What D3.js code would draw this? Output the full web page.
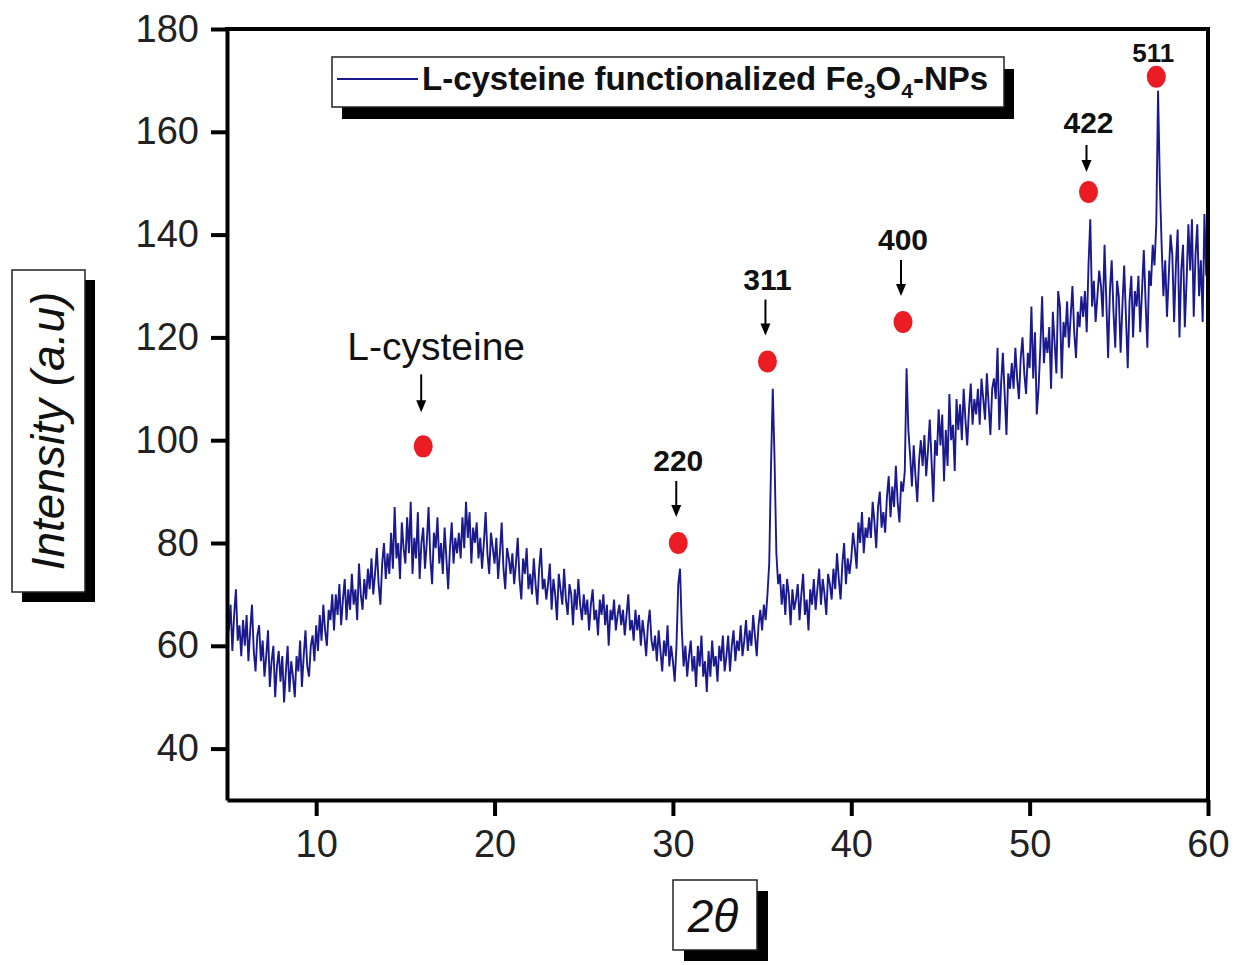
<!DOCTYPE html>
<html>
<head>
<meta charset="utf-8">
<title>XRD pattern</title>
<script src="https://cdn.jsdelivr.net/npm/d3@7"></script>
<style>
    body { margin: 0; background: #fff; }
    svg { display: block; }
    .axis path, .axis line { stroke: #000; stroke-width: 4; }
    .axis text { font-family: Arial, "Liberation Sans", sans-serif; font-size: 38px; fill: #222; }
</style>
</head>
<body>
<div id="chart"></div>
<script>
// 2theta scan, 5..60 deg, 0.1 deg per point (one row per degree)
const thetaStart = 5;
const thetaStep = 0.1;
const intensity = [
    70, 63, 68, 59, 66, 71, 61, 64, 58, 65,
    60, 66, 57, 63, 68, 59, 55, 62, 64, 57,
    61, 54, 58, 63, 52, 57, 60, 50, 56, 59,
    53, 58, 49, 55, 60, 51, 57, 54, 50, 58,
    55, 61, 52, 58, 63, 56, 54, 60, 62, 57,
    64, 59, 66, 61, 68, 63, 60, 67, 65, 70,
    63, 70, 66, 72, 64, 69, 73, 65, 71, 67,
    74, 68, 71, 65, 76, 70, 67, 73, 69, 75,
    71, 77, 70, 74, 79, 72, 68, 76, 80, 73,
    78, 74, 82, 75, 87, 77, 80, 73, 84, 79,
    76, 85, 78, 88, 74, 81, 77, 86, 73, 80,
    83, 75, 80, 87, 77, 72, 82, 79, 85, 76,
    80, 74, 83, 77, 71, 79, 84, 76, 81, 78,
    82, 77, 85, 79, 88, 81, 86, 76, 83, 80,
    84, 77, 81, 75, 80, 86, 78, 74, 82, 79,
    76, 81, 73, 78, 84, 75, 71, 79, 77, 74,
    78, 72, 76, 81, 73, 69, 77, 74, 79, 71,
    74, 70, 77, 72, 68, 75, 79, 71, 73, 69,
    72, 76, 67, 73, 70, 65, 74, 71, 68, 75,
    69, 66, 72, 70, 64, 71, 67, 73, 68, 65,
    70, 66, 69, 63, 68, 71, 65, 67, 62, 69,
    66, 70, 64, 68, 60, 67, 65, 69, 63, 66,
    68, 64, 67, 62, 66, 70, 63, 65, 61, 67,
    63, 66, 60, 65, 62, 58, 64, 67, 61, 59,
    62, 57, 63, 59, 55, 61, 58, 64, 56, 60,
    57, 53, 60, 72, 75, 63, 56, 60, 54, 58,
    61, 55, 58, 52, 60, 56, 62, 54, 57, 51,
    59, 54, 61, 56, 58, 53, 60, 57, 62, 55,
    58, 62, 55, 60, 63, 57, 61, 59, 64, 58,
    61, 65, 59, 63, 60, 66, 62, 58, 64, 67,
    63, 68, 65, 70, 76, 95, 110, 96, 78, 72,
    74, 68, 72, 66, 73, 70, 64, 71, 67, 69,
    72, 65, 70, 74, 66, 69, 63, 71, 68, 73,
    67, 71, 75, 68, 73, 70, 66, 74, 72, 69,
    75, 71, 78, 73, 69, 76, 80, 72, 77, 74,
    77, 82, 79, 75, 84, 80, 86, 78, 83, 81,
    85, 81, 88, 84, 79, 87, 90, 83, 86, 82,
    89, 93, 85, 91, 87, 95, 88, 84, 92, 90,
    94, 114, 102, 97, 91, 99, 93, 88, 96, 100,
    95, 101, 93, 98, 104, 96, 88, 100, 97, 106,
    99, 105, 92, 102, 95, 109, 100, 103, 94, 108,
    102, 107, 100, 110, 104, 99, 106, 111, 103, 108,
    105, 110, 103, 112, 108, 104, 113, 107, 101, 110,
    112, 108, 118, 102, 111, 117, 109, 101, 113, 110,
    115, 110, 118, 112, 108, 116, 120, 113, 109, 117,
    114, 126, 112, 121, 105, 110, 118, 128, 115, 120,
    117, 122, 110, 125, 119, 113, 129, 126, 112, 123,
    120, 127, 118, 124, 130, 121, 116, 125, 122, 128,
    124, 129, 121, 134, 143, 126, 131, 123, 128, 133,
    130, 124, 138, 127, 116, 129, 135, 125, 118, 131,
    128, 117, 126, 134, 124, 114, 127, 132, 120, 129,
    126, 132, 121, 129, 137, 127, 118, 133, 130, 138,
    134, 142, 168, 150, 138, 128, 135, 124, 132, 140,
    136, 123, 134, 141, 120, 133, 138, 122, 131, 142,
    133, 143, 124, 136, 142, 128, 135, 123, 144, 132,
    136
];

// marked reflections
const peakLabels = ["L-cysteine", "220", "311", "400", "422", "511"];
const peakTheta = [16.0, 30.3, 35.3, 42.9, 53.3, 57.1];
const peakMark = [98.8, 80, 115.3, 123, 148.3, 170.7];

const xTicks = [10, 20, 30, 40, 50, 60];
const yTicks = [40, 60, 80, 100, 120, 140, 160, 180];

const seriesName = "L-cysteine functionalized Fe";
const xTitle = "2θ";
const yTitle = "Intensity (a.u)";


class XrdChart {

    constructor(_parentElement, _data) {
        this.parentElement = _parentElement;
        this.data = _data;

        this.initVis();
    }

    initVis() {
        let vis = this;

        vis.margin = { top: 29, right: 27, bottom: 165, left: 227 };
        vis.width = 1235 - vis.margin.left - vis.margin.right;
        vis.height = 965 - vis.margin.top - vis.margin.bottom;

        vis.root = d3.select("#" + vis.parentElement).append("svg")
            .attr("width", 1235)
            .attr("height", 965);

        vis.svg = vis.root.append("g")
            .attr("transform", "translate(" + vis.margin.left + "," + vis.margin.top + ")");

        vis.x = d3.scaleLinear().domain([5, 60]).range([0, vis.width]);
        vis.y = d3.scaleLinear().domain([30, 180]).range([vis.height, 0]);

        vis.xAxis = d3.axisBottom(vis.x)
            .tickValues(xTicks)
            .tickSize(16)
            .tickSizeOuter(0)
            .tickPadding(14);

        vis.yAxis = d3.axisLeft(vis.y)
            .tickValues(yTicks)
            .tickSize(16)
            .tickSizeOuter(0)
            .tickPadding(12);

        vis.line = d3.line()
            .x(d => vis.x(d.theta))
            .y(d => vis.y(d.value));

        vis.wrangleData();
    }

    wrangleData() {
        let vis = this;

        vis.displayData = vis.data.map((v, i) => ({ theta: thetaStart + i * thetaStep, value: v }));

        vis.updateVis();
    }

    updateVis() {
        let vis = this;

        // pattern
        vis.svg.append("path")
            .datum(vis.displayData)
            .attr("fill", "none")
            .attr("stroke", "#1a1a8e")
            .attr("stroke-width", 1.9)
            .attr("stroke-linejoin", "miter")
            .attr("d", vis.line);

        // frame
        vis.svg.append("g")
            .attr("class", "x-axis axis")
            .attr("transform", "translate(0," + vis.height + ")")
            .call(vis.xAxis);

        vis.svg.append("g")
            .attr("class", "y-axis axis")
            .call(vis.yAxis);

        vis.svg.selectAll(".axis").attr("font-family", null).attr("font-size", null);

        vis.svg.append("path")
            .attr("d", "M0,0H" + vis.width + "V" + vis.height)
            .attr("fill", "none")
            .attr("stroke", "#000")
            .attr("stroke-width", 4)
            .attr("stroke-linecap", "square");

        // peak markers and labels
        let layout = {
            "L-cysteine": { dx: 13, a0: -72, a1: -34, t: -86, size: 39, weight: "normal" },
            "422": { dx: 0, a0: -47, a1: -20, t: -59, size: 30, weight: "bold" },
            "511": { dx: -3, a0: null, a1: null, t: -15, size: 26, weight: "bold" }
        };

        peakLabels.forEach((lab, i) => {
            let cx = vis.x(peakTheta[i]);
            let cy = vis.y(peakMark[i]);
            let l = layout[lab] || { dx: 0, a0: -62, a1: -26, t: -72, size: 30, weight: "bold" };

            vis.svg.append("ellipse")
                .attr("cx", cx)
                .attr("cy", cy)
                .attr("rx", 9.5)
                .attr("ry", 11)
                .attr("fill", "#ec1c24");

            if (l.a0 !== null) {
                let ax = cx - 2;
                vis.svg.append("line")
                    .attr("x1", ax).attr("x2", ax)
                    .attr("y1", cy + l.a0).attr("y2", cy + l.a1 - 8)
                    .attr("stroke", "#000")
                    .attr("stroke-width", 2);
                vis.svg.append("path")
                    .attr("d", "M" + (ax - 5) + "," + (cy + l.a1 - 12) + "L" + (ax + 5) + "," + (cy + l.a1 - 12) + "L" + ax + "," + (cy + l.a1) + "Z")
                    .attr("fill", "#000");
            }

            vis.svg.append("text")
                .attr("x", cx + l.dx)
                .attr("y", cy + l.t)
                .attr("text-anchor", "middle")
                .attr("font-family", "Arial, 'Liberation Sans', sans-serif")
                .attr("font-size", l.size)
                .attr("font-weight", l.weight)
                .attr("fill", "#111")
                .text(lab);
        });

        // legend
        let lg = vis.root.append("g").attr("transform", "translate(332,57)");
        lg.append("rect").attr("x", 10).attr("y", 12).attr("width", 672).attr("height", 50).attr("fill", "#000");
        lg.append("rect").attr("width", 672).attr("height", 50)
            .attr("fill", "#fff").attr("stroke", "#222").attr("stroke-width", 1.5);
        lg.append("line")
            .attr("x1", 5).attr("x2", 86)
            .attr("y1", 22).attr("y2", 22)
            .attr("stroke", "#1a1a8e").attr("stroke-width", 2);
        let lt = lg.append("text")
            .attr("x", 90).attr("y", 33)
            .attr("font-family", "Arial, 'Liberation Sans', sans-serif")
            .attr("font-size", 33)
            .attr("font-weight", "bold")
            .attr("fill", "#111");
        lt.append("tspan").text(seriesName);
        lt.append("tspan").attr("dy", 8).attr("font-size", 21).text("3");
        lt.append("tspan").attr("dy", -8).text("O");
        lt.append("tspan").attr("dy", 8).attr("font-size", 21).text("4");
        lt.append("tspan").attr("dy", -8).text("-NPs");

        // axis titles in shadowed boxes
        let yt = vis.root.append("g");
        yt.append("rect").attr("x", 22).attr("y", 280).attr("width", 73).attr("height", 322).attr("fill", "#000");
        yt.append("rect").attr("x", 12).attr("y", 270).attr("width", 73).attr("height", 322)
            .attr("fill", "#fff").attr("stroke", "#222").attr("stroke-width", 1.5);
        yt.append("text")
            .attr("transform", "translate(64,431) rotate(-90)")
            .attr("text-anchor", "middle")
            .attr("font-family", "Arial, 'Liberation Sans', sans-serif")
            .attr("font-size", 46)
            .attr("font-style", "italic")
            .attr("fill", "#111")
            .text(yTitle);

        let xt = vis.root.append("g");
        xt.append("rect").attr("x", 684).attr("y", 891).attr("width", 84).attr("height", 70).attr("fill", "#000");
        xt.append("rect").attr("x", 673).attr("y", 880).attr("width", 84).attr("height", 70)
            .attr("fill", "#fff").attr("stroke", "#222").attr("stroke-width", 1.5);
        xt.append("text")
            .attr("x", 713).attr("y", 932)
            .attr("text-anchor", "middle")
            .attr("font-family", "Arial, 'Liberation Sans', sans-serif")
            .attr("font-size", 46)
            .attr("font-style", "italic")
            .attr("fill", "#111")
            .text(xTitle);
    }
}

new XrdChart("chart", intensity);
</script>
</body>
</html>
